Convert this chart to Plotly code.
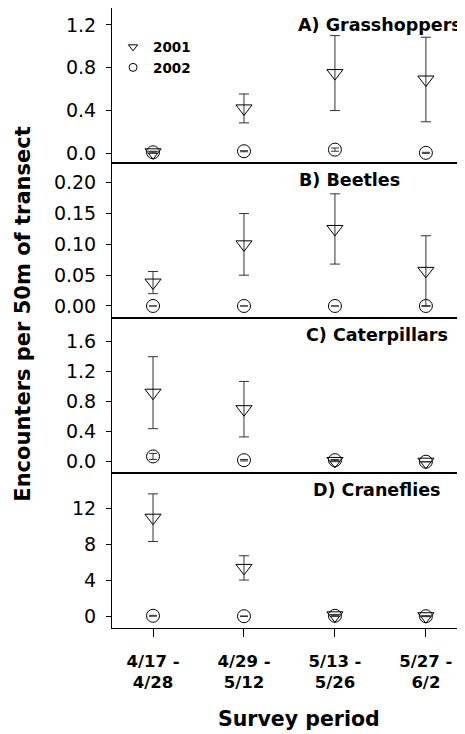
import plotly.graph_objects as go
from plotly.subplots import make_subplots

# ---------------- data ----------------
periods = ["4/17 -<br>4/28", "4/29 -<br>5/12", "5/13 -<br>5/26", "5/27 -<br>6/2"]
period_pos = [1, 2, 3, 4]

panel_titles = ["A) Grasshoppers", "B) Beetles", "C) Caterpillars", "D) Craneflies"]

grass_2001 = [0.01, 0.42, 0.75, 0.69]
grass_2001_se = [0.01, 0.135, 0.35, 0.395]
grass_2002 = [0.01, 0.02, 0.035, 0.005]
grass_2002_se = [0.005, 0.005, 0.015, 0.005]

beetle_2001 = [0.038, 0.100, 0.125, 0.057]
beetle_2001_se = [0.018, 0.050, 0.057, 0.057]
beetle_2002 = [0.0, 0.0, 0.0, 0.0]
beetle_2002_se = [0.0, 0.0, 0.0, 0.0]

cater_2001 = [0.92, 0.70, 0.01, 0.0]
cater_2001_se = [0.48, 0.37, 0.01, 0.0]
cater_2002 = [0.07, 0.02, 0.02, 0.0]
cater_2002_se = [0.04, 0.01, 0.01, 0.0]

crane_2001 = [11.0, 5.42, 0.15, 0.05]
crane_2001_se = [2.65, 1.35, 0.1, 0.05]
crane_2002 = [0.1, 0.05, 0.1, 0.05]
crane_2002_se = [0.05, 0.03, 0.05, 0.03]

series_2001 = [grass_2001, beetle_2001, cater_2001, crane_2001]
series_2001_se = [grass_2001_se, beetle_2001_se, cater_2001_se, crane_2001_se]
series_2002 = [grass_2002, beetle_2002, cater_2002, crane_2002]
series_2002_se = [grass_2002_se, beetle_2002_se, cater_2002_se, crane_2002_se]

y_ranges = [[-0.09, 1.358], [-0.0195, 0.232], [-0.151, 1.916], [-1.26, 15.97]]
y_ticks = [[0, 0.4, 0.8, 1.2], [0, 0.05, 0.10, 0.15, 0.20], [0, 0.4, 0.8, 1.2, 1.6], [0, 4, 8, 12]]
y_formats = [".1f", ".2f", ".1f", "d"]
title_x = [0.758, 0.673, 0.751, 0.749]

legend_labels = ["2001", "2002"]

FONT = "DejaVu Sans"
ERRC = "#333333"

fig = make_subplots(rows=4, cols=1, shared_xaxes=True, vertical_spacing=0)

for i in range(4):
    r = i + 1
    fig.add_trace(go.Scatter(
        x=period_pos, y=series_2002[i], mode="markers",
        marker=dict(symbol="circle-open", size=13, color="black", line=dict(width=1, color="black")),
        error_y=dict(type="data", array=series_2002_se[i], color=ERRC, thickness=1, width=4),
        showlegend=False, hoverinfo="skip"), row=r, col=1)
    fig.add_trace(go.Scatter(
        x=period_pos, y=series_2001[i], mode="markers",
        marker=dict(symbol="triangle-down-open", size=14, color="black", line=dict(width=1, color="black")),
        error_y=dict(type="data", array=series_2001_se[i], color=ERRC, thickness=1, width=5),
        showlegend=False, hoverinfo="skip"), row=r, col=1)

# legend-only entries
fig.add_trace(go.Scatter(x=[None], y=[None], mode="markers", name="<b>" + legend_labels[0] + "</b>",
                         marker=dict(symbol="triangle-down-open", size=8, color="black", line=dict(width=1)),
                         legendgroup="a"), row=1, col=1)
fig.add_trace(go.Scatter(x=[None], y=[None], mode="markers", name="<b>" + legend_labels[1] + "</b>",
                         marker=dict(symbol="circle-open", size=8, color="black", line=dict(width=1)),
                         legendgroup="b"), row=1, col=1)

for i in range(4):
    r = i + 1
    fig.update_yaxes(row=r, col=1, range=y_ranges[i], tickvals=y_ticks[i], tickformat=y_formats[i],
                     showline=True, linecolor="black", linewidth=1, ticks="outside", ticklen=5,
                     tickcolor="black", showgrid=False, zeroline=False, ticklabelstandoff=6,
                     tickfont=dict(family=FONT, size=19, color="black"))
    last = (r == 4)
    fig.update_xaxes(row=r, col=1, range=[0.549, 4.43], showline=True, mirror=True, linecolor="black",
                     linewidth=1, showgrid=False, zeroline=False,
                     tickvals=period_pos, ticktext=["<b>" + p + "</b>" for p in periods],
                     ticks="outside" if last else "", ticklen=8, tickcolor="black",
                     showticklabels=last, ticklabelstandoff=10,
                     tickfont=dict(family=FONT, size=16.5, color="black"))
    yref = "y domain" if r == 1 else "y%d domain" % r
    fig.add_annotation(text="<b>" + panel_titles[i] + "</b>", xref="paper", yref=yref,
                       x=title_x[i], y=0.89, xanchor="center", yanchor="middle", showarrow=False,
                       font=dict(family=FONT, size=17.5, color="black"))

fig.add_annotation(text="<b>Encounters per 50m of transect</b>", xref="paper", yref="paper",
                   x=-0.252, y=0.507, textangle=-90, showarrow=False, xanchor="center", yanchor="middle",
                   font=dict(family=FONT, size=21, color="black"))
fig.add_annotation(text="<b>Survey period</b>", xref="paper", yref="paper",
                   x=0.53, y=-0.147, showarrow=False, xanchor="center", yanchor="middle",
                   font=dict(family=FONT, size=20.5, color="black"))

# the page body adds an 8px offset; the figure is sized to fill the rest of the window
fig.update_layout(
    width=457, height=726,
    margin=dict(l=104, r=0, t=0, b=106),
    paper_bgcolor="white", plot_bgcolor="white",
    showlegend=True,
    legend=dict(x=0.003, y=0.962, xanchor="left", yanchor="top", bgcolor="rgba(0,0,0,0)",
                font=dict(family=FONT, size=13.5, color="black"), traceorder="grouped",
                tracegroupgap=0, itemwidth=30),
    font=dict(family=FONT, color="black"),
)

fig.write_html("out.html")
